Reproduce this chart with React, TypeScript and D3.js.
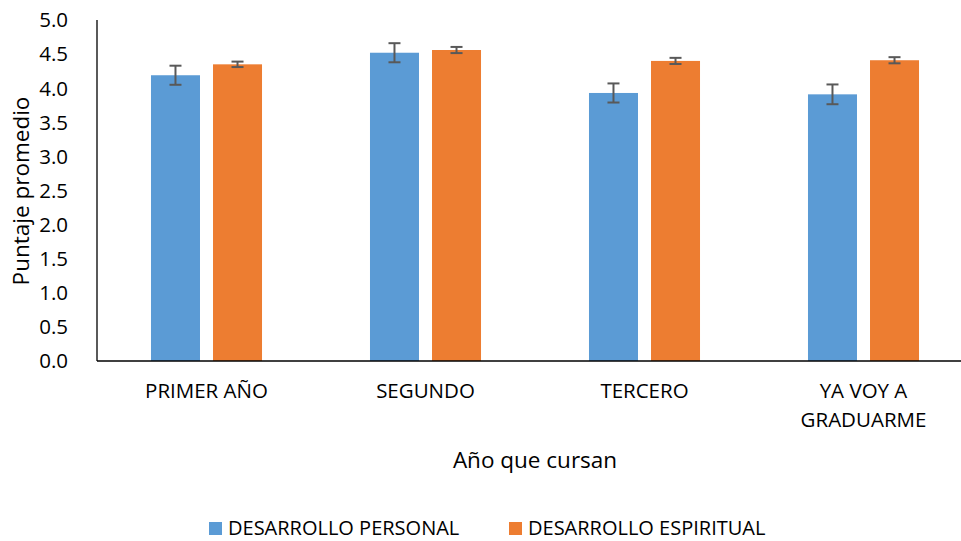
import React from "react";
import * as d3 from "d3";

const categories = ["PRIMER AÑO", "SEGUNDO", "TERCERO", "YA VOY A GRADUARME"];
const categoryLines = [["PRIMER AÑO"], ["SEGUNDO"], ["TERCERO"], ["YA VOY A", "GRADUARME"]];
const seriesNames = ["DESARROLLO PERSONAL", "DESARROLLO ESPIRITUAL"];
const personal = [4.19, 4.52, 3.93, 3.91];
const personalErr = [0.14, 0.14, 0.14, 0.145];
const espiritual = [4.35, 4.56, 4.4, 4.41];
const espiritualErr = [0.04, 0.045, 0.045, 0.045];
const yTicks = [0, 0.5, 1, 1.5, 2, 2.5, 3, 3.5, 4, 4.5, 5];
const colors = ["#5B9BD5", "#ED7D31"];

const W = 961;
const H = 541;
const FONT = "'Open Sans', sans-serif";

export default function App() {
  const y = d3.scaleLinear().domain([0, 5]).range([361, 20]);
  const x0 = d3.scaleBand<string>().domain(categories).range([97, 973]).paddingInner(0.493).paddingOuter(0.2465);
  const x1 = d3.scaleBand<string>().domain(seriesNames).range([0, x0.bandwidth()]).paddingInner(0.21).paddingOuter(0);
  const values = [personal, espiritual];
  const errs = [personalErr, espiritualErr];
  const capHalf = 6;

  return (
    <div style={{ position: "absolute", left: 0, top: 0 }}>
      <svg width={W} height={H} style={{ display: "block", background: "#fff" }} fontFamily={FONT}>
        {/* y tick labels */}
        {yTicks.map((t) => (
          <text key={t} x={68} y={y(t)} dy="0.36em" textAnchor="end" fontSize={20.5} fill="#000">
            {d3.format(".1f")(t)}
          </text>
        ))}
        {/* bars */}
        {categories.map((c, i) => (
          <g key={c} transform={`translate(${x0(c)},0)`}>
            {seriesNames.map((s, k) => {
              const v = values[k][i];
              const e = errs[k][i];
              const bx = x1(s)!;
              const cx = bx + x1.bandwidth() / 2;
              return (
                <g key={s}>
                  <rect x={bx} y={y(v)} width={x1.bandwidth()} height={y(0) - y(v)} fill={colors[k]} />
                  <line x1={cx} x2={cx} y1={y(v + e)} y2={y(v - e)} stroke="#595959" strokeWidth={2} />
                  <line x1={cx - capHalf} x2={cx + capHalf} y1={y(v + e)} y2={y(v + e)} stroke="#595959" strokeWidth={2} />
                  <line x1={cx - capHalf} x2={cx + capHalf} y1={y(v - e)} y2={y(v - e)} stroke="#595959" strokeWidth={2} />
                </g>
              );
            })}
          </g>
        ))}
        {/* axes lines */}
        <line x1={97} x2={97} y1={y(5)} y2={y(0)} stroke="#000" strokeWidth={1.3} />
        <line x1={97} x2={961} y1={y(0)} y2={y(0)} stroke="#000" strokeWidth={1.3} />
        {/* x tick labels */}
        {categories.map((c, i) => (
          <text key={c} x={x0(c)! + x0.bandwidth() / 2} y={398} textAnchor="middle" fontSize={20.5} fill="#000">
            {categoryLines[i].map((ln, j) => (
              <tspan key={j} x={x0(c)! + x0.bandwidth() / 2} dy={j === 0 ? 0 : 29}>
                {ln}
              </tspan>
            ))}
          </text>
        ))}
        {/* axis titles */}
        <text x={535} y={468} textAnchor="middle" fontSize={22.5} fill="#000">
          Año que cursan
        </text>
        <text transform="translate(29,191) rotate(-90)" textAnchor="middle" fontSize={22.5} fill="#000">
          Puntaje promedio
        </text>
        {/* legend */}
        {seriesNames.map((s, k) => {
          const lx = k === 0 ? 209 : 509;
          return (
            <g key={s}>
              <rect x={lx} y={522} width={13} height={13} fill={colors[k]} />
              <text x={lx + 19} y={535} fontSize={20} fill="#000">
                {s}
              </text>
            </g>
          );
        })}
      </svg>
    </div>
  );
}
